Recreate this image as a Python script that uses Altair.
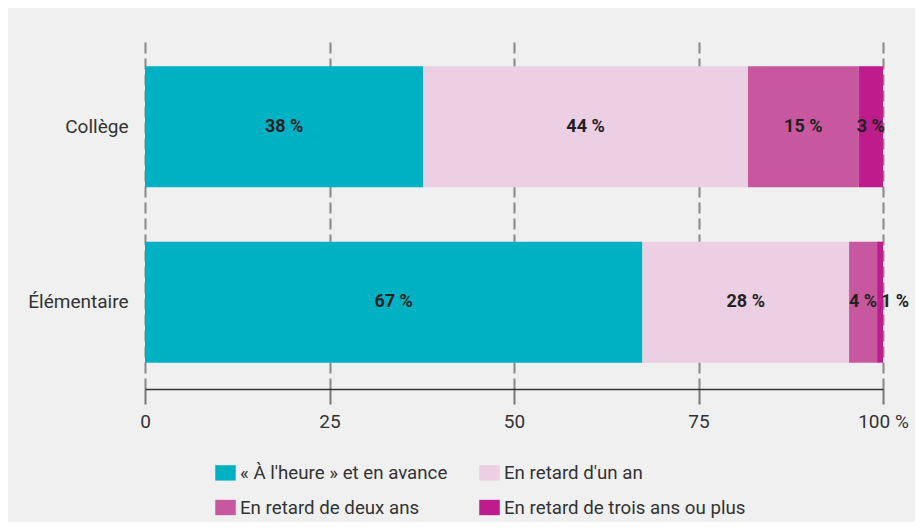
import altair as alt
import pandas as pd

levels = ["Collège", "Élémentaire"]
categories = ["« À l'heure » et en avance", "En retard d'un an",
              "En retard de deux ans", "En retard de trois ans ou plus"]
college = [37.7, 44.0, 15.0, 3.3]
elementaire = [67.4, 28.0, 3.8, 0.8]
colors = ["#00b1c4", "#eccfe2", "#c758a0", "#be1b8d"]
x_ticks = [0, 25, 50, 75, 100]

rows = []
for lvl, vals in zip(levels, [college, elementaire]):
    for i, (cat, v) in enumerate(zip(categories, vals)):
        rows.append({"level": lvl, "cat": cat, "order": i, "value": v})
df = pd.DataFrame(rows)

base = alt.Chart(df).transform_stack(
    stack="value", groupby=["level"], as_=["x0", "x1"],
    sort=[alt.SortField("order")]
).transform_calculate(
    mid="(datum.x0 + datum.x1) / 2",
    label="format(round(datum.value), 'd') + ' %'"
)

yaxis = alt.Axis(ticks=False, domain=False, labelFontSize=19,
                 labelColor="#333333", labelPadding=17,
                 labelFont="Roboto", grid=False)
yenc = alt.Y("level:N", sort=levels, title=None,
             scale=alt.Scale(paddingInner=0.31, paddingOuter=0.15),
             axis=yaxis)

bars = base.mark_bar().encode(
    x=alt.X("x0:Q", title=None,
            scale=alt.Scale(domain=[0, 100], nice=False),
            axis=alt.Axis(values=x_ticks,
                          labelExpr="datum.value == 100 ? '100 %' : datum.label",
                          labelFontSize=19, labelColor="#333333", labelFont="Roboto",
                          labelPadding=8, labelFlush=False,
                          tickSize=15, tickColor="#777777", tickWidth=2,
                          domainColor="#333333", domainWidth=1.5,
                          grid=True, gridDash=[11, 5], gridColor="#888888",
                          gridWidth=2)),
    x2="x1:Q",
    y=yenc,
    color=alt.Color("cat:N", sort=categories,
                    scale=alt.Scale(domain=categories, range=colors),
                    legend=alt.Legend(title=None, orient="none", legendX=70,
                                      legendY=422, columns=2, direction="horizontal",
                                      symbolType="M-1,-0.75H1V0.75H-1Z",
                                      symbolSize=420, symbolStrokeWidth=0,
                                      labelFontSize=18.7, labelColor="#333333",
                                      labelFont="Roboto", labelOffset=4,
                                      columnPadding=31, rowPadding=14,
                                      padding=0, labelLimit=400)),
    order=alt.Order("order:Q"),
)

text_main = base.transform_filter("datum.value >= 2").mark_text(
    fontSize=18, fontWeight="bold", color="#222222", font="Roboto"
).encode(x="mid:Q", y=alt.Y("level:N", sort=levels, axis=yaxis, title=None), text="label:N")

text_small = base.transform_filter("datum.value < 2").mark_text(
    fontSize=18, fontWeight="bold", color="#222222", font="Roboto", dx=15
).encode(x="mid:Q", y=alt.Y("level:N", sort=levels, axis=yaxis, title=None), text="label:N")

chart = alt.layer(bars, text_main, text_small).properties(
    width=738, height=349,
    autosize=alt.AutoSizeParams(type="none"),
    padding={"left": 137, "top": 32, "right": 32, "bottom": 133},
    background="#f0f0f0",
).configure_view(stroke=None)

chart.save("out.html", embed_options={"renderer": "svg", "actions": False})
